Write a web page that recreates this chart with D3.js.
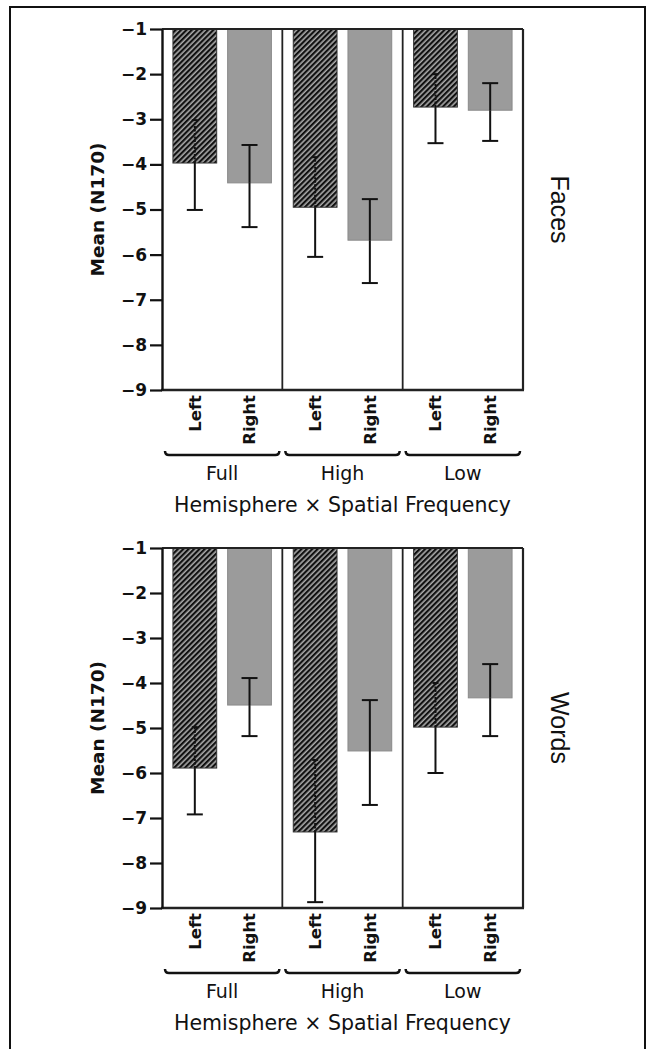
<!DOCTYPE html>
<html>
<head>
<meta charset="utf-8">
<script src="https://cdn.jsdelivr.net/npm/d3@7"></script>
<style>
  body { margin: 0; background: #fff; }
  svg { display: block; }
</style>
</head>
<body>
<div id="chart"></div>
<script>
// data
var frequencies = ["Full", "High", "Low"];
var hemispheres = ["Left", "Right"];
var stimuli = ["Faces", "Words"];
var yTicks = [-1, -2, -3, -4, -5, -6, -7, -8, -9];

// order: Full L, Full R, High L, High R, Low L, Low R
var facesMean  = [-3.97, -4.41, -4.95, -5.68, -2.73, -2.80];
var facesUpper = [-3.02, -3.57, -3.84, -4.77, -2.00, -2.20];
var facesLower = [-5.01, -5.39, -6.05, -6.63, -3.53, -3.48];

var wordsMean  = [-5.89, -4.49, -7.31, -5.51, -4.98, -4.33];
var wordsUpper = [-4.98, -3.89, -5.71, -4.38, -4.00, -3.58];
var wordsLower = [-6.92, -5.18, -8.87, -6.71, -6.00, -5.18];

var svgWidth = 647;
var svgHeight = 1049;

var svg = d3.select("#chart")
    .append("svg")
    .attr("width", svgWidth)
    .attr("height", svgHeight);

// hatch for left hemisphere bars
var defs = svg.append("defs");
var pat = defs.append("pattern")
    .attr("id", "hatch")
    .attr("patternUnits", "userSpaceOnUse")
    .attr("width", 3.8)
    .attr("height", 3.8)
    .attr("patternTransform", "rotate(45)");
pat.append("rect")
    .attr("width", 3.8).attr("height", 3.8)
    .attr("fill", "#a8a8a8");
pat.append("line")
    .attr("x1", 1.1).attr("y1", 0).attr("x2", 1.1).attr("y2", 3.8)
    .attr("stroke", "#111").attr("stroke-width", 2.2);

// outer frame
svg.append("rect")
    .attr("x", 10).attr("y", 7)
    .attr("width", 635).attr("height", 1070)
    .attr("fill", "none")
    .attr("stroke", "#111")
    .attr("stroke-width", 2);

var left = 162, right = 523;
var panels = [
    { name: stimuli[0], top: 29, bottom: 390, mean: facesMean, upper: facesUpper, lower: facesLower },
    { name: stimuli[1], top: 548, bottom: 908, mean: wordsMean, upper: wordsUpper, lower: wordsLower }
];

var xOuter = d3.scaleBand()
    .domain(frequencies)
    .range([left, right])
    .padding(0);

var xInner = d3.scaleBand()
    .domain(hemispheres)
    .range([0, xOuter.bandwidth()])
    .paddingInner(0.2)
    .paddingOuter(0.2);

panels.forEach(function(p) {
    var y = d3.scaleLinear()
        .domain([-1, -9])
        .range([p.top, p.bottom]);

    var g = svg.append("g");

    var rows = [];
    frequencies.forEach(function(f, i) {
        hemispheres.forEach(function(h, j) {
            var k = i * 2 + j;
            rows.push({ f: f, h: h, mean: p.mean[k], upper: p.upper[k], lower: p.lower[k] });
        });
    });

    // bars
    g.selectAll("rect.bar")
        .data(rows)
        .enter()
        .append("rect")
        .attr("class", "bar")
        .attr("x", d => xOuter(d.f) + xInner(d.h))
        .attr("y", y(-1))
        .attr("width", xInner.bandwidth())
        .attr("height", d => y(d.mean) - y(-1))
        .attr("fill", d => d.h === "Left" ? "url(#hatch)" : "#9b9b9b")
        .attr("stroke", d => d.h === "Left" ? "#333" : "#8a8a8a")
        .attr("stroke-width", 1);

    // error bars
    var cx = d => xOuter(d.f) + xInner(d.h) + xInner.bandwidth() / 2;
    var cap = 8;

    // lower part, solid
    g.selectAll("line.errLow")
        .data(rows)
        .enter()
        .append("line")
        .attr("x1", cx).attr("x2", cx)
        .attr("y1", d => y(d.mean)).attr("y2", d => y(d.lower))
        .attr("stroke", "#111").attr("stroke-width", 2);
    g.selectAll("line.capLow")
        .data(rows)
        .enter()
        .append("line")
        .attr("x1", d => cx(d) - cap).attr("x2", d => cx(d) + cap)
        .attr("y1", d => y(d.lower)).attr("y2", d => y(d.lower))
        .attr("stroke", "#111").attr("stroke-width", 2);

    // upper part inside the bar
    g.selectAll("line.errUp")
        .data(rows)
        .enter()
        .append("line")
        .attr("x1", cx).attr("x2", cx)
        .attr("y1", d => y(d.mean)).attr("y2", d => y(d.upper))
        .attr("stroke", "#111").attr("stroke-width", 2)
        .attr("stroke-dasharray", d => d.h === "Left" ? "2,1.5" : null);
    g.selectAll("line.capUp")
        .data(rows)
        .enter()
        .append("line")
        .attr("x1", d => cx(d) - (d.h === "Left" ? 3 : cap))
        .attr("x2", d => cx(d) + (d.h === "Left" ? 3 : cap))
        .attr("y1", d => y(d.upper)).attr("y2", d => y(d.upper))
        .attr("stroke", "#111").attr("stroke-width", 2);

    // dividers between frequency groups
    g.selectAll("line.divider")
        .data(frequencies.slice(1))
        .enter()
        .append("line")
        .attr("x1", d => xOuter(d)).attr("x2", d => xOuter(d))
        .attr("y1", p.top).attr("y2", p.bottom)
        .attr("stroke", "#222").attr("stroke-width", 1.8);

    // box: top, right, bottom
    g.append("line")
        .attr("x1", left).attr("x2", right)
        .attr("y1", p.top).attr("y2", p.top)
        .attr("stroke", "#222").attr("stroke-width", 2);
    g.append("line")
        .attr("x1", right).attr("x2", right)
        .attr("y1", p.top).attr("y2", p.bottom)
        .attr("stroke", "#222").attr("stroke-width", 2.2);
    g.append("line")
        .attr("x1", left - 1).attr("x2", right + 1)
        .attr("y1", p.bottom).attr("y2", p.bottom)
        .attr("stroke", "#222").attr("stroke-width", 2.4);

    // y axis
    var yAxis = d3.axisLeft(y)
        .tickValues(yTicks)
        .tickSize(12)
        .tickSizeOuter(0)
        .tickPadding(3);
    var ya = g.append("g")
        .attr("transform", `translate(${left}, 0)`)
        .call(yAxis);
    ya.select(".domain").attr("stroke", "#111").attr("stroke-width", 2.4);
    ya.selectAll(".tick line").attr("stroke", "#111").attr("stroke-width", 2.2);
    ya.selectAll(".tick text")
        .style("font-family", "DejaVu Sans")
        .style("font-weight", "bold")
        .style("font-size", "17px")
        .attr("fill", "#111");

    // hemisphere labels under each group
    frequencies.forEach(function(f) {
        var xa = g.append("g")
            .attr("transform", `translate(${xOuter(f)}, ${p.bottom})`)
            .call(d3.axisBottom(xInner).tickSize(0));
        xa.select(".domain").remove();
        xa.selectAll(".tick text")
            .attr("transform", "rotate(-90)")
            .attr("x", -5)
            .attr("y", 0)
            .attr("dy", "0.36em")
            .style("text-anchor", "end")
            .style("font-family", "DejaVu Sans")
            .style("font-weight", "bold")
            .style("font-size", "16.5px")
            .attr("fill", "#111");
    });

    // brackets
    var by = p.bottom + 65;
    g.selectAll("path.bracket")
        .data(frequencies)
        .enter()
        .append("path")
        .attr("d", function(f) {
            var x0 = xOuter(f) + 3, x1 = xOuter(f) + xOuter.bandwidth() - 3;
            return `M${x0},${by - 4} Q${x0},${by} ${x0 + 4},${by} L${x1 - 4},${by} Q${x1},${by} ${x1},${by - 4}`;
        })
        .attr("fill", "none")
        .attr("stroke", "#111")
        .attr("stroke-width", 2.5);

    g.selectAll("text.group")
        .data(frequencies)
        .enter()
        .append("text")
        .attr("x", f => xOuter(f) + xOuter.bandwidth() / 2)
        .attr("y", p.bottom + 90)
        .style("text-anchor", "middle")
        .style("font-family", "DejaVu Sans")
        .style("font-size", "19px")
        .attr("fill", "#111")
        .text(f => f);

    g.append("text")
        .attr("x", (left + right) / 2)
        .attr("y", p.bottom + 122)
        .style("text-anchor", "middle")
        .style("font-family", "DejaVu Sans")
        .style("font-size", "20.5px")
        .attr("fill", "#111")
        .text("Hemisphere \u00d7 Spatial Frequency");

    // y title
    g.append("text")
        .attr("transform", `translate(104, ${(p.top + p.bottom) / 2}) rotate(-90)`)
        .style("text-anchor", "middle")
        .style("font-family", "DejaVu Sans")
        .style("font-weight", "bold")
        .style("font-size", "18.5px")
        .attr("fill", "#111")
        .text("Mean (N170)");

    // stimulus label on the right
    g.append("text")
        .attr("transform", `translate(551, ${(p.top + p.bottom) / 2}) rotate(90)`)
        .style("text-anchor", "middle")
        .style("font-family", "Liberation Sans")
        .style("font-size", "25px")
        .attr("fill", "#111")
        .text(p.name);
});
</script>
</body>
</html>
